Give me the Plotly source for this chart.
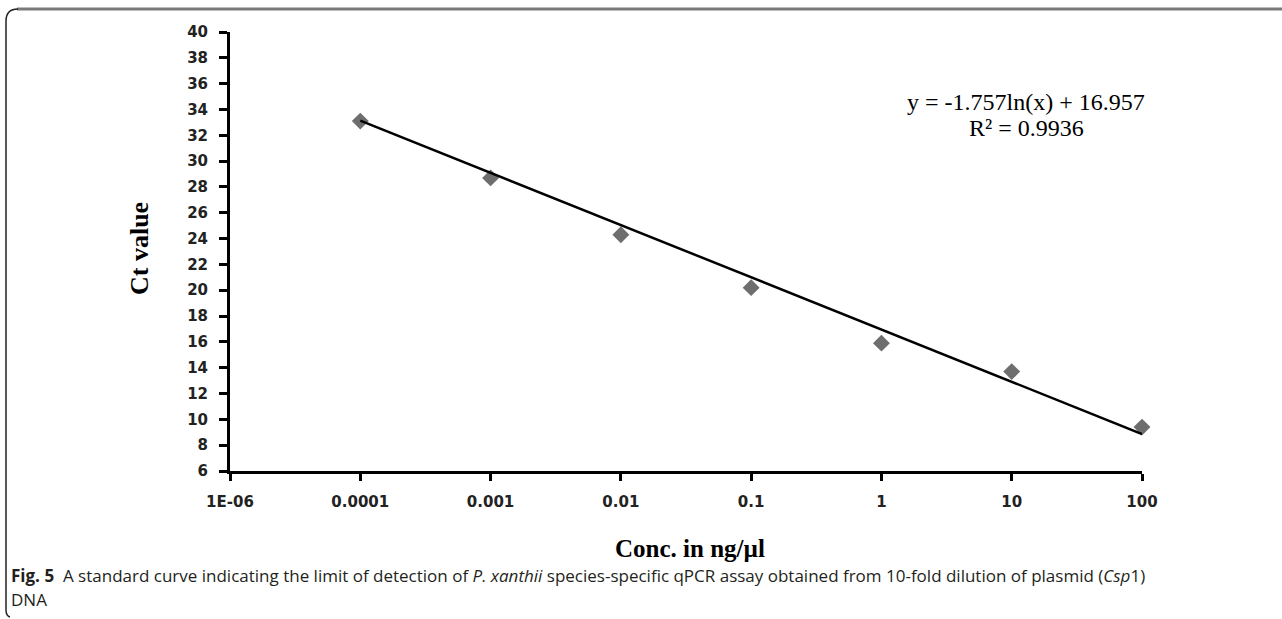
import numpy as np
import plotly.graph_objects as go

# ---- data ----
conc = [0.0001, 0.001, 0.01, 0.1, 1, 10, 100]
ct = [33.1, 28.7, 24.3, 20.2, 15.9, 13.7, 9.4]
tick_vals = [1e-5, 1e-4, 1e-3, 1e-2, 1e-1, 1, 10, 100]
tick_labels = ["1E-06", "0.0001", "0.001", "0.01", "0.1", "1", "10", "100"]
y_ticks = list(range(6, 41, 2))
slope, intercept = -1.757, 16.957
r2 = 0.9936

W, H = 1282, 619
L, R, T, B = 230, 1142, 32, 471  # plot area in pixels


def px(x):
    return (x - L) / (R - L)


def py(y):
    return (B - y) / (B - T)


trend_x = np.array([conc[0], conc[-1]])
trend_y = slope * np.log(trend_x) + intercept

fig = go.Figure()
fig.add_trace(go.Scatter(
    x=conc, y=ct, mode="markers",
    marker=dict(symbol="diamond", size=13, color="#6e6e6e"),
    showlegend=False, cliponaxis=False))
fig.add_trace(go.Scatter(
    x=trend_x, y=trend_y, mode="lines",
    line=dict(color="black", width=2.5),
    showlegend=False, cliponaxis=False))

tick_font = dict(family="DejaVu Sans", size=15, color="#222222", weight="bold")
fig.update_xaxes(type="log", range=[-5, 2], tickvals=tick_vals, ticktext=tick_labels,
                 showline=True, linecolor="black", linewidth=3,
                 ticks="outside", ticklen=7, tickwidth=2.5, tickcolor="black",
                 ticklabelstandoff=8,
                 showgrid=False, zeroline=False, tickfont=tick_font)
fig.update_yaxes(range=[6, 40], tickvals=y_ticks,
                 showline=True, linecolor="black", linewidth=3,
                 ticks="outside", ticklen=8, tickwidth=2.5, tickcolor="black",
                 ticklabelstandoff=8,
                 showgrid=False, zeroline=False, tickfont=tick_font)

serif = "Liberation Serif"


def note(x, y, text, font, angle=0, xa="center"):
    return dict(x=px(x), y=py(y), xref="paper", yref="paper", text=text,
                textangle=angle, showarrow=False, xanchor=xa, yanchor="middle",
                font=font)


ann = [
    note(140, 249, "<b>Ct value</b>", dict(family=serif, size=26, color="black"), angle=-90),
    note(690, 548, "<b>Conc. in ng/µl</b>", dict(family=serif, size=25, color="black")),
    note(1026, 102, f"y = {slope}ln(x) + {intercept}", dict(family=serif, size=24, color="black")),
    note(1026, 128, f"R² = {r2}", dict(family=serif, size=24, color="black")),
]
cap_font = dict(family="Open Sans", size=17, color="#231f20")
ann.append(note(9, 575, "<b>Fig. 5</b>  A standard curve indicating the limit of detection of "
                        "<i>P. xanthii</i> species-specific qPCR assay obtained from 10-fold "
                        "dilution of plasmid (<i>Csp</i>1)", cap_font, xa="left"))
ann.append(note(9, 599, "DNA", cap_font, xa="left"))

shapes = [
    dict(type="line", xref="paper", yref="paper", x0=px(17), x1=px(1282), y0=py(9), y1=py(9),
         line=dict(color="#7a7a7a", width=3)),
    dict(type="path", xref="paper", yref="paper",
         path=(f"M {px(18)},{py(9)} Q {px(6)},{py(9)} {px(6)},{py(21)} "
               f"L {px(6)},{py(610)} Q {px(6)},{py(616)} {px(10)},{py(617)}"),
         line=dict(color="#222222", width=1.5)),
]

fig.update_layout(width=W, height=H, margin=dict(l=L, r=W - R, t=T, b=H - B),
                  plot_bgcolor="white", paper_bgcolor="white",
                  annotations=ann, shapes=shapes)
fig.write_html("out.html")
